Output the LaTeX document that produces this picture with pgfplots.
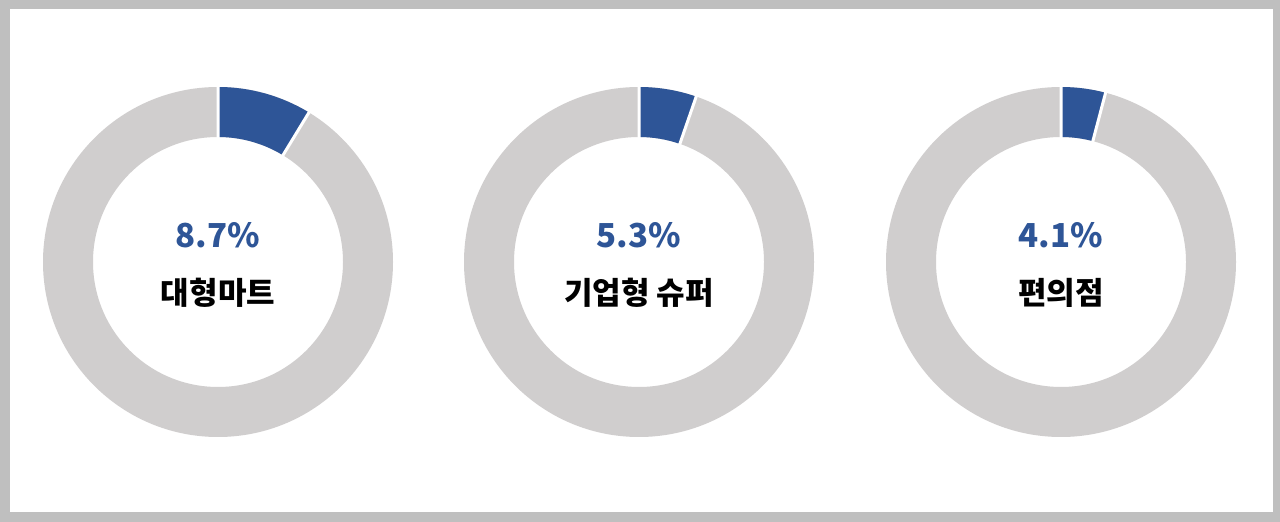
\documentclass[border=0pt]{standalone}
\usepackage{fontspec}
\setmainfont{Noto Sans CJK KR}
\usepackage{pgfplots}
\usepackage{pgfplotstable}
\pgfplotsset{compat=1.18}

\definecolor{ringgray}{HTML}{D0CECE}
\definecolor{donutblue}{HTML}{2E5597}
\definecolor{framegray}{HTML}{BFBFBF}

% share of each channel, drawn as a donut centred on (x,y)
\pgfplotstableread[col sep=comma]{
x,y,v,label
218,260,8.7,대형마트
639,260,5.3,기업형 슈퍼
1061,260,4.1,편의점
}\shares

\pgfdeclareplotmark{donut}{%
  \pgfmathsetmacro\endang{90-3.6*\myv}%
  \pgfsetfillcolor{ringgray}%
  \pgfpathcircle{\pgfpointorigin}{175pt}%
  \pgfpathcircle{\pgfpointorigin}{125pt}%
  \pgfseteorule
  \pgfusepath{fill}%
  \pgfsetnonzerorule
  \pgfpathmoveto{\pgfpointpolar{90}{175pt}}%
  \pgfpatharc{90}{\endang}{175pt}%
  \pgfpathlineto{\pgfpointpolar{\endang}{125pt}}%
  \pgfpatharc{\endang}{90}{125pt}%
  \pgfpathclose
  \pgfsetfillcolor{donutblue}%
  \pgfusepath{fill}%
  \pgfsetstrokecolor{white}%
  \pgfsetlinewidth{3pt}%
  \pgfpathmoveto{\pgfpointpolar{90}{120pt}}%
  \pgfpathlineto{\pgfpointpolar{90}{180pt}}%
  \pgfpathmoveto{\pgfpointpolar{\endang}{120pt}}%
  \pgfpathlineto{\pgfpointpolar{\endang}{180pt}}%
  \pgfusepath{stroke}%
}

\begin{document}
\begin{tikzpicture}
\fill[framegray] (0,0) rectangle (1280pt,522pt);
\fill[white] (10pt,10pt) rectangle (1273pt,513pt);
\begin{axis}[
    at={(0,0)}, anchor=south west,
    x=1pt, y=1pt, scale only axis,
    xmin=0, xmax=1280, ymin=0, ymax=522,
    hide axis, clip=false,
    /pgf/number format/assume math mode=true,
  ]
  \addplot[only marks, mark=donut,
    visualization depends on={\thisrow{v} \as \myv},
    point meta=\thisrow{v},
    nodes near coords={\pgfmathprintnumber[fixed,precision=1,fixed zerofill]{\pgfplotspointmeta}\%},
    every node near coord/.style={anchor=center, yshift=27pt,
      font=\fontsize{33}{40}\selectfont\bfseries, text=donutblue},
  ] table[x=x, y=y] {\shares};
  \addplot[only marks, mark=none,
    point meta=explicit symbolic,
    nodes near coords,
    every node near coord/.style={anchor=center, yshift=-31pt,
      font=\fontsize{31}{37}\selectfont\bfseries, text=black},
  ] table[x=x, y=y, meta=label] {\shares};
\end{axis}
\end{tikzpicture}
\end{document}
